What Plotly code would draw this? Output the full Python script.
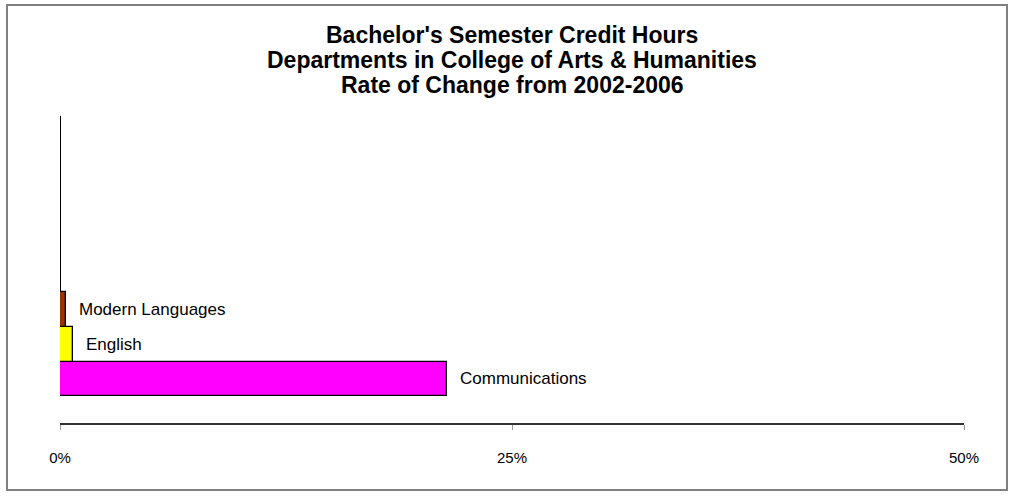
import plotly.graph_objects as go

# departments, bottom to top as drawn
departments = ['Communications', 'English', 'Modern Languages',
               'Dept D', 'Dept E', 'Dept F', 'Dept G', 'Dept H']
rate_change = [0.214, 0.0072, 0.0033, 0.0003, 0.0003, 0.0003, 0.0003, 0.0003]
bar_colors = ['#FF00FF', '#FFFF00', '#993300', '#CCFFCC',
              '#000000', '#CC99FF', '#FF99CC', '#99CCFF']
shown_labels = ['Communications', 'English', 'Modern Languages', '', '', '', '', '']

x_ticks = [0, 0.25, 0.5]

title_lines = ["Bachelor's Semester Credit Hours",
               'Departments in College of Arts & Humanities',
               'Rate of Change from 2002-2006']

font_family = 'Arial, Liberation Sans, sans-serif'

fig = go.Figure()
fig.add_trace(go.Bar(
    x=rate_change,
    y=departments,
    orientation='h',
    marker={'color': bar_colors, 'line': {'color': 'black', 'width': 1.3}},
    hoverinfo='x+y',
))

for dept, val, lab in zip(departments, rate_change, shown_labels):
    if lab:
        fig.add_annotation(
            x=val, y=dept, text=lab, showarrow=False,
            xanchor='left', yanchor='middle', xshift=11,
            font={'family': font_family, 'size': 17, 'color': 'black'},
        )

# plot area in pixels: left 60, bottom 423, 904 x 333
pw, ph = 904, 333

# title, one annotation per line so the spacing is tight like the original
for line, ypx in zip(title_lines, [35, 60, 85]):
    fig.add_annotation(
        x=0.5, xref='paper', y=(423 - ypx) / ph, yref='paper',
        text='<b>' + line + '</b>', showarrow=False,
        xanchor='center', yanchor='middle',
        font={'family': font_family, 'size': 23, 'color': 'black'},
    )

# grey frame around the whole chart
fig.add_shape(
    type='rect', xref='paper', yref='paper',
    x0=(7 - 60) / pw, x1=(1007 - 60) / pw,
    y0=(423 - 490) / ph, y1=(423 - 5) / ph,
    line={'color': '#808080', 'width': 2},
)

fig.update_layout(
    width=1013,
    height=497,
    margin={'l': 60, 'r': 49, 't': 90, 'b': 74},
    paper_bgcolor='white',
    plot_bgcolor='white',
    showlegend=False,
    bargap=0,
    xaxis={
        'range': [0, 0.5],
        'tickvals': x_ticks,
        'tickformat': '.0%',
        'showgrid': False,
        'zeroline': False,
        'showline': True,
        'linecolor': '#333333',
        'linewidth': 1.5,
        'ticks': 'outside',
        'ticklen': 5,
        'tickcolor': '#999999',
        'ticklabelstandoff': 15,
        'tickfont': {'family': font_family, 'size': 15, 'color': 'black'},
    },
    yaxis={
        'categoryorder': 'array',
        'categoryarray': departments,
        'range': [-1.26, 8.27],
        'showticklabels': False,
        'showgrid': False,
        'zeroline': False,
        'showline': False,
        'ticks': '',
    },
)

# the page body has a default 8px margin; drop it so the chart sits at 0,0
fig.write_html('out.html', config={'displayModeBar': False},
               post_script="document.body.style.margin='0px';")
